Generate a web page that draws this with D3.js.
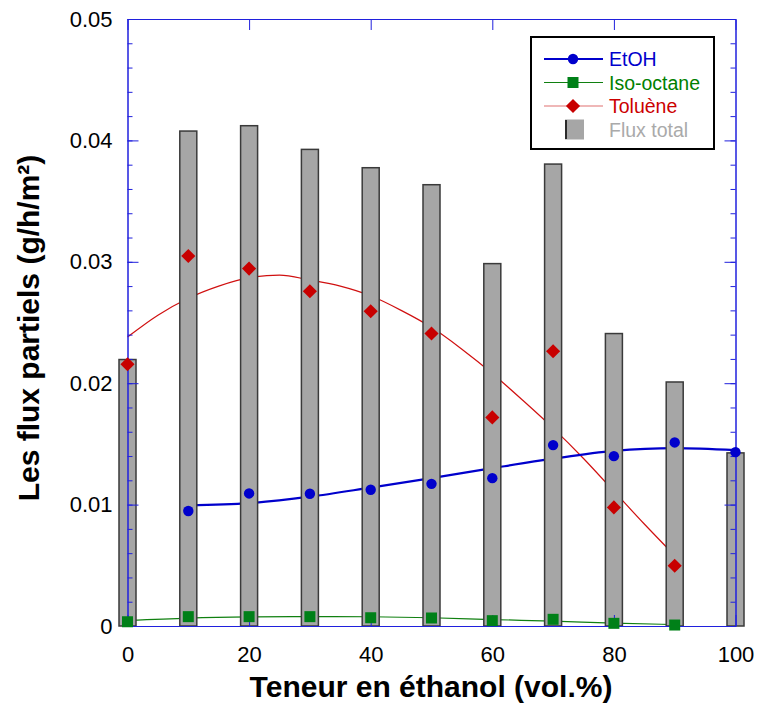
<!DOCTYPE html>
<html><head><meta charset="utf-8">
<script src="https://cdn.jsdelivr.net/npm/d3@7"></script>
<style>body{margin:0;background:#fff}svg{display:block;font-family:Arial,'Liberation Sans',sans-serif}</style>
</head><body>
<svg id="c" width="758" height="707"></svg>
<script>
// ---- data ----
const ethanol = [0,10,20,30,40,50,60,70,80,90,100];
const fluxTotal = [0.02195,0.04077,0.04121,0.03926,0.03775,0.03635,0.02985,0.03805,0.02409,0.0201,0.01426];
const etoh      = [null,0.00947,0.01092,0.01089,0.01122,0.01171,0.01218,0.0149,0.01399,0.01512,0.01432];
const isoOctane = [0.00035,0.00077,0.00077,0.00077,0.00068,0.00066,0.00044,0.00055,0.00022,0.00008,null];
const toluene   = [0.02156,0.03048,0.02944,0.02757,0.02593,0.02409,0.01718,0.02263,0.00977,0.00496,null];

const etohFitX = [10,20,30,40,50,60,70,80,90,100];
const etohFitY = [0.00994,0.01012,0.01065,0.01140,0.01218,0.01300,0.01378,0.01442,0.01465,0.01448];
const isoFitX = [0,10,20,30,40,50,60,70,80,90];
const isoFitY = [0.00045,0.00065,0.00075,0.00078,0.00076,0.00068,0.00053,0.00040,0.00024,0.00012];
const tolFitX = [0,5,10,15,20,25,30,35,40,45,50,55,60,65,70,75,80,85,90];
const tolFitY = [0.0238,0.0256,0.0270,0.0280,0.0287,0.0289,0.0285,0.0280,0.0272,0.0260,0.0246,0.0228,0.0208,0.0186,0.0163,0.0138,0.0111,0.0084,0.0058];

const xTicks = [0,20,40,60,80,100];
const yTicks = [0,0.01,0.02,0.03,0.04,0.05];
const yTickLabels = ["0","0.01","0.02","0.03","0.04","0.05"];
const yMinor = d3.range(0,0.0501,0.002);

const legendNames = ["EtOH","Iso-octane","Toluène","Flux total"];
const legendColors = ["#0000cc","#008000","#cc0000","#aaaaaa"];

// ---- drawing ----
const svg = d3.select("#c");
const x = d3.scaleLinear().domain([0,100]).range([127.5,735.5]);
const y = d3.scaleLinear().domain([0,0.05]).range([626,19]);
const axisCol = "#2020dd";

const line = (xs, ys) => d3.line().x((d,i)=>x(xs[i])).y(d=>y(d)).curve(d3.curveMonotoneX)(ys);

// fitted curves (under the bars)
svg.append("path").attr("d", line(tolFitX, tolFitY)).attr("fill","none").attr("stroke","#d01010").attr("stroke-width",1.2);
svg.append("path").attr("d", line(etohFitX, etohFitY)).attr("fill","none").attr("stroke","#0000cc").attr("stroke-width",2.2);
svg.append("path").attr("d", line(isoFitX, isoFitY)).attr("fill","none").attr("stroke","#108010").attr("stroke-width",1.2);

// bars
const bw = 17;
svg.append("g").selectAll("rect").data(fluxTotal).join("rect")
  .attr("x",(d,i)=>x(ethanol[i])-bw/2).attr("width",bw)
  .attr("y",d=>y(d)).attr("height",d=>y(0)-y(d))
  .attr("fill","#a6a6a6").attr("stroke","#3a3a3a").attr("stroke-width",1.5);

// axes
function styleAxis(g){ g.selectAll("path,line").attr("stroke",axisCol); g.selectAll("text").attr("fill","#000").attr("font-size",22).attr("font-family","Arial,'Liberation Sans',sans-serif"); }
svg.append("g").attr("transform","translate(127.5,0)")
  .call(d3.axisLeft(y).tickValues(yMinor).tickSize(-5).tickSizeOuter(0).tickFormat("")).call(styleAxis);
svg.append("g").attr("transform","translate(127.5,0)")
  .call(d3.axisLeft(y).tickValues(yTicks).tickSize(-11).tickSizeOuter(0).tickPadding(15).tickFormat((d,i)=>yTickLabels[i])).call(styleAxis);
svg.append("g").attr("transform","translate(735.5,0)")
  .call(d3.axisRight(y).tickValues(yMinor).tickSize(-5).tickSizeOuter(0).tickFormat("")).call(styleAxis);
svg.append("g").attr("transform","translate(735.5,0)")
  .call(d3.axisRight(y).tickValues(yTicks).tickSize(-11).tickSizeOuter(0).tickFormat("")).call(styleAxis);
svg.append("g").attr("transform","translate(0,19)")
  .call(d3.axisTop(x).tickValues(xTicks).tickSize(-11).tickSizeOuter(0).tickFormat("")).call(styleAxis);
svg.append("g").attr("transform","translate(0,626)")
  .call(d3.axisBottom(x).tickValues(xTicks).tickSize(-11).tickSizeOuter(0).tickPadding(20)).call(styleAxis);

// markers
const pts = (arr) => arr.map((v,i)=>({x:ethanol[i],v})).filter(d=>d.v!==null);
svg.append("g").selectAll("circle").data(pts(etoh)).join("circle")
  .attr("cx",d=>x(d.x)).attr("cy",d=>y(d.v)).attr("r",5.2).attr("fill","#0000cc");
svg.append("g").selectAll("rect").data(pts(isoOctane)).join("rect")
  .attr("x",d=>x(d.x)-5.5).attr("y",d=>y(d.v)-5.5).attr("width",11).attr("height",11).attr("fill","#008018");
svg.append("g").selectAll("path").data(pts(toluene)).join("path")
  .attr("transform",d=>`translate(${x(d.x)},${y(d.v)}) rotate(45)`).attr("d",d3.symbol().type(d3.symbolSquare).size(100)).attr("fill","#c80000");

// axis titles
svg.append("text").attr("x",431).attr("y",697).attr("text-anchor","middle")
  .attr("font-size",30).attr("font-weight","bold").text("Teneur en éthanol (vol.%)");
svg.append("text").attr("transform","translate(39,328) rotate(-90)").attr("text-anchor","middle")
  .attr("font-size",30).attr("font-weight","bold").text("Les flux partiels (g/h/m²)");

// legend
const lg = svg.append("g");
lg.append("rect").attr("x",531).attr("y",37).attr("width",183).attr("height",112).attr("fill","#fff").attr("stroke","#000").attr("stroke-width",2);
const rows = [59,82.5,106,129.5];
lg.append("line").attr("x1",544).attr("x2",603).attr("y1",rows[0]).attr("y2",rows[0]).attr("stroke","#0000cc").attr("stroke-width",2);
lg.append("circle").attr("cx",573).attr("cy",rows[0]).attr("r",5.2).attr("fill","#0000cc");
lg.append("line").attr("x1",544).attr("x2",603).attr("y1",rows[1]).attr("y2",rows[1]).attr("stroke","#108010").attr("stroke-width",1.2);
lg.append("rect").attr("x",567.5).attr("y",rows[1]-5.5).attr("width",11).attr("height",11).attr("fill","#008018");
lg.append("line").attr("x1",544).attr("x2",603).attr("y1",rows[2]).attr("y2",rows[2]).attr("stroke","#e07070").attr("stroke-width",1.2);
lg.append("path").attr("transform",`translate(573,${rows[2]}) rotate(45)`).attr("d",d3.symbol().type(d3.symbolSquare).size(100)).attr("fill","#c80000");
lg.append("rect").attr("x",565).attr("y",119.5).attr("width",19).attr("height",20).attr("fill","#a6a6a6");
lg.append("line").attr("x1",566).attr("x2",566).attr("y1",120).attr("y2",139).attr("stroke","#000").attr("stroke-width",1.5);
lg.selectAll("text.l").data(legendNames).join("text").attr("class","l")
  .attr("x",609).attr("y",(d,i)=>rows[i]+7).attr("font-size",19.5).attr("fill",(d,i)=>legendColors[i]).text(d=>d);
</script>
</body></html>
